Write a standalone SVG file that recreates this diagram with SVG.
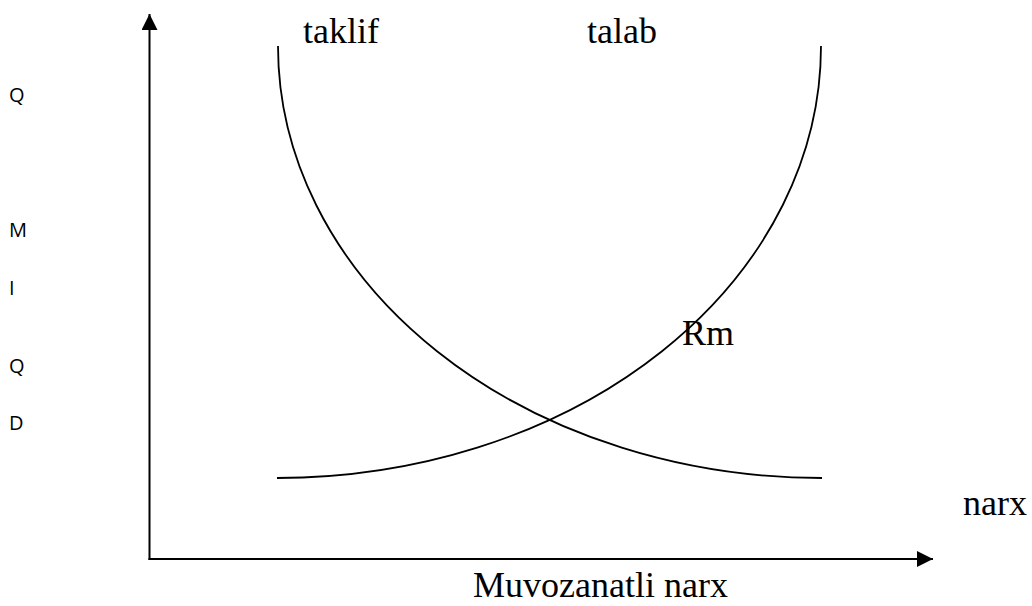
<svg xmlns="http://www.w3.org/2000/svg" width="1032" height="606" viewBox="0 0 1032 606">
  <style>
    .serif { font-family: "Liberation Serif", "Times New Roman", serif; font-size: 36px; fill: #000; }
    .sans { font-family: "Open Sans", "Liberation Sans", Arial, sans-serif; font-size: 20px; fill: #000; }
    .axis { stroke: #000; stroke-width: 2; fill: none; }
    .curve { stroke: #000; stroke-width: 1.8; fill: none; }
  </style>
  <defs>
    <marker id="arrow" viewBox="0 0 16 16" refX="16" refY="8" markerWidth="16" markerHeight="16" markerUnits="userSpaceOnUse" orient="auto">
      <path d="M0,0 L16,8 L0,16 Z" fill="#000"/>
    </marker>
  </defs>
  <rect width="1032" height="606" fill="#fff"/>

  <g id="connectors">
    <line id="y-axis" class="axis" x1="149.5" y1="560" x2="149.5" y2="14" marker-end="url(#arrow)"/>
    <line id="x-axis" class="axis" x1="148.5" y1="559" x2="933" y2="559" marker-end="url(#arrow)"/>
  </g>

  <g id="curve-taklif">
    <path class="curve" d="M278,46 A544,432 0 0 0 822,478"/>
  </g>
  <g id="curve-talab">
    <path class="curve" d="M277,478 A544,432 0 0 0 821,46"/>
  </g>

  <g id="label-taklif"><text class="serif" x="303" y="43">taklif</text></g>
  <g id="label-talab"><text class="serif" x="587" y="43">talab</text></g>
  <g id="label-rm"><text class="serif" x="682" y="345">Rm</text></g>
  <g id="label-narx"><text class="serif" x="963" y="515">narx</text></g>
  <g id="label-muvozanatli"><text class="serif" x="473" y="597">Muvozanatli narx</text></g>

  <g id="label-vertical">
    <text class="sans" x="9" y="102">Q</text>
    <text class="sans" x="9" y="237">M</text>
    <text class="sans" x="9" y="295">I</text>
    <text class="sans" x="9" y="373">Q</text>
    <text class="sans" x="9" y="430">D</text>
  </g>
</svg>
